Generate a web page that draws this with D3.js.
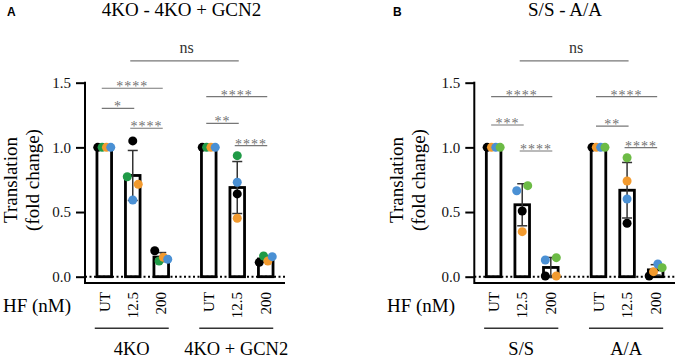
<!DOCTYPE html>
<html><head><meta charset="utf-8">
<script src="https://cdn.jsdelivr.net/npm/d3@7"></script>
<style>body{margin:0;background:#fff} svg{display:block}</style>
</head><body><svg id="chart" width="678" height="359"></svg>
<script>
// ---------- DATA ----------
const doses = ["UT", "12.5", "200"];
const yTicks = [0, 0.5, 1.0, 1.5];

// Panel A
const titleA = "4KO - 4KO + GCN2";
const groupsA = ["4KO", "4KO + GCN2"];
// values per replicate, ordered: group1 UT,12.5,200, group2 UT,12.5,200
const repA_black  = [1.0, 1.05, 0.201, 1.0, 0.640, 0.111];
const repA_green  = [1.0, 0.773, 0.121, 1.0, 0.936, 0.160];
const repA_orange = [1.0, 0.715, 0.150, 1.0, 0.452, 0.121];
const repA_blue   = [1.0, 0.593, 0.135, 1.0, 0.730, 0.155];
// comparisons: [group1, dose1, group2, dose2, bracket height, label]
const compsA = [
  ["4KO", "12.5", "4KO + GCN2", "12.5", 1.668, "ns"],
  ["4KO", "UT", "4KO", "200", 1.457, "****"],
  ["4KO", "UT", "4KO", "12.5", 1.302, "*"],
  ["4KO", "12.5", "4KO", "200", 1.148, "****"],
  ["4KO + GCN2", "UT", "4KO + GCN2", "200", 1.392, "****"],
  ["4KO + GCN2", "UT", "4KO + GCN2", "12.5", 1.186, "**"],
  ["4KO + GCN2", "12.5", "4KO + GCN2", "200", 1.013, "****"]
];

// Panel B
const titleB = "S/S - A/A";
const groupsB = ["S/S", "A/A"];
const repB_black  = [1.0, 0.508, 0.005, 1.0, 0.413, 0.005];
const repB_orange = [1.0, 0.348, 0.005, 1.0, 0.740, 0.039];
const repB_blue   = [1.0, 0.665, 0.129, 1.0, 0.601, 0.098];
const repB_green  = [1.0, 0.704, 0.147, 1.0, 0.920, 0.070];
const compsB = [
  ["S/S", "12.5", "A/A", "12.5", 1.668, "ns"],
  ["S/S", "UT", "S/S", "200", 1.392, "****"],
  ["S/S", "UT", "S/S", "12.5", 1.173, "***"],
  ["S/S", "12.5", "S/S", "200", 0.972, "****"],
  ["A/A", "UT", "A/A", "200", 1.392, "****"],
  ["A/A", "UT", "A/A", "12.5", 1.165, "**"],
  ["A/A", "12.5", "A/A", "200", 0.998, "****"]
];

// ---------- STYLE ----------
const SERIF = "'Liberation Serif','Times New Roman',serif";
const svg = d3.select("#chart");

function panel(cfg) {
  const g = svg.append("g").attr("font-family", SERIF);
  const y = d3.scaleLinear().domain([0, 1.5]).range([276.7, 82.7]);
  const xg = d3.scaleBand().domain(cfg.groups).range([cfg.axisX, cfg.right])
    .paddingInner(0.182).paddingOuter(0.048);
  const xd = d3.scalePoint().domain(doses).range([0, xg.bandwidth()]).padding(0.5);
  const cx = (gr, d) => xg(gr) + xd(d);
  const xAxisY = 283;
  const r = 4.5;

  // panel letter & title
  g.append("text").attr("x", cfg.letterX).attr("y", 16)
    .attr("font-family", "'Liberation Sans',Arial,sans-serif").attr("font-weight", "bold")
    .attr("font-size", 12).text(cfg.letter);
  g.append("text").attr("x", cfg.titleX).attr("y", 16).attr("text-anchor", "middle")
    .attr("font-family", SERIF).attr("font-size", 19).text(cfg.title);

  // build bar data
  const bars = [];
  cfg.groups.forEach((gr, gi) => doses.forEach((d, di) => {
    const idx = gi * doses.length + di;
    const vals = cfg.reps.map(rep => rep[idx]);
    bars.push({gr, d, x: cx(gr, d), vals, mean: d3.mean(vals), sd: d3.deviation(vals)});
  }));

  // bars
  g.selectAll("rect.bar").data(bars).join("rect").attr("class", "bar")
    .attr("x", b => b.x - 7.3).attr("width", 14.6)
    .attr("y", b => y(b.mean)).attr("height", b => y(0) - y(b.mean))
    .attr("fill", "#fff").attr("stroke", "#000").attr("stroke-width", 2.8);

  // zero dotted line
  g.append("line").attr("x1", cfg.axisX).attr("x2", cfg.right)
    .attr("y1", y(0)).attr("y2", y(0))
    .attr("stroke", "#000").attr("stroke-width", 2).attr("stroke-dasharray", "2,2.5");

  // error bars (SD)
  bars.forEach(b => {
    if (!(b.sd > 0)) return;
    const eg = g.append("g").attr("stroke", "#333").attr("stroke-width", 1.5);
    eg.append("line").attr("x1", b.x).attr("x2", b.x).attr("y1", y(b.mean - b.sd)).attr("y2", y(b.mean + b.sd));
    [b.mean - b.sd, b.mean + b.sd].forEach(v =>
      eg.append("line").attr("x1", b.x - 5).attr("x2", b.x + 5).attr("y1", y(v)).attr("y2", y(v)));
  });

  // points with simple row dodge
  bars.forEach(b => {
    const pts = b.vals.map((v, i) => ({v, i, py: y(v), off: 0}));
    const sorted = pts.slice().sort((a, c) => a.py - c.py);
    const rows = [];
    sorted.forEach(p => {
      const last = rows[rows.length - 1];
      if (last && p.py - last[last.length - 1].py < 2 * r) last.push(p); else rows.push([p]);
    });
    rows.forEach(row => {
      const n = row.length;
      if (n < 2) return;
      const sp = Math.min(11, 13 / (n - 1));
      row.sort((a, c) => a.i - c.i).forEach((p, k) => p.off = (k - (n - 1) / 2) * sp);
    });
    pts.forEach(p => {
      g.append("circle").attr("cx", b.x + p.off).attr("cy", p.py).attr("r", r)
        .attr("fill", cfg.colors[p.i]);
    });
  });

  // y axis
  const ax = g.append("g").attr("transform", `translate(${cfg.axisX},0)`)
    .call(d3.axisLeft(y).tickValues(yTicks).tickFormat(d3.format(".1f")).tickSize(9).tickPadding(5));
  ax.attr("font-family", SERIF);
  ax.select(".domain").remove();
  ax.selectAll(".tick line").attr("stroke", "#000").attr("stroke-width", 2);
  ax.selectAll(".tick text").attr("font-family", SERIF).attr("font-size", 15).attr("fill", "#111");
  g.append("line").attr("x1", cfg.axisX).attr("x2", cfg.axisX).attr("y1", y(1.5) - 1).attr("y2", xAxisY + 1)
    .attr("stroke", "#000").attr("stroke-width", 2);
  // x axis line
  g.append("line").attr("x1", cfg.axisX).attr("x2", cfg.right).attr("y1", xAxisY).attr("y2", xAxisY)
    .attr("stroke", "#000").attr("stroke-width", 2);

  // y label
  const yl = g.append("text").attr("transform", `translate(0,180) rotate(-90)`)
    .attr("text-anchor", "middle").attr("font-family", SERIF).attr("font-size", 19);
  yl.append("tspan").attr("x", 0).attr("y", cfg.ylab1).text("Translation");
  yl.append("tspan").attr("x", 0).attr("y", cfg.ylab2).text("(fold change)");

  // dose labels
  bars.forEach(b => {
    g.append("text").attr("transform", `translate(${b.x},${xAxisY + 9}) rotate(-90)`)
      .attr("text-anchor", "end").attr("dy", "0.35em")
      .attr("font-family", SERIF).attr("font-size", 15).text(b.d);
  });
  g.append("text").attr("x", cfg.hfX).attr("y", 312).attr("text-anchor", "end")
    .attr("font-family", SERIF).attr("font-size", 19).text("HF (nM)");

  // group brackets
  cfg.groups.forEach(gr => {
    const x1 = cx(gr, doses[0]) - 9.5, x2 = cx(gr, doses[doses.length - 1]) + 7.5;
    g.append("line").attr("x1", x1).attr("x2", x2).attr("y1", 328.3).attr("y2", 328.3)
      .attr("stroke", "#333").attr("stroke-width", 1.5);
    g.append("text").attr("x", (x1 + x2) / 2).attr("y", 355).attr("text-anchor", "middle")
      .attr("font-family", SERIF).attr("font-size", 18.5).text(gr);
  });

  // significance
  cfg.comps.forEach(([g1, d1, g2, d2, h, lab]) => {
    const x1 = cx(g1, d1) - 2.5, x2 = cx(g2, d2) + 1.5;
    const yy = y(h);
    g.append("line").attr("x1", x1).attr("x2", x2).attr("y1", yy).attr("y2", yy)
      .attr("stroke", "#777").attr("stroke-width", 1.2);
    if (lab === "ns") {
      g.append("text").attr("x", (x1 + x2) / 2 + 2).attr("y", yy - 8).attr("text-anchor", "middle")
        .attr("font-family", SERIF).attr("font-size", 16).attr("fill", "#333").text(lab);
    } else {
      g.append("text").attr("x", (x1 + x2) / 2).attr("y", yy + 3).attr("text-anchor", "middle")
        .attr("font-family", SERIF).attr("font-size", 14).attr("letter-spacing", 1)
        .attr("fill", "#707070").text(lab);
    }
  });
}

panel({
  letter: "A", letterX: 7, title: titleA, titleX: 181.5,
  groups: groupsA, reps: [repA_black, repA_green, repA_orange, repA_blue],
  colors: ["#000000", "#1f9a46", "#f29a2e", "#4a90d4"],
  comps: compsA, axisX: 85, right: 285, ylab1: 17, ylab2: 39, hfX: 71
});
panel({
  letter: "B", letterX: 393, title: titleB, titleX: 565,
  groups: groupsB, reps: [repB_black, repB_orange, repB_blue, repB_green],
  colors: ["#000000", "#f29a2e", "#4a90d4", "#6cbb45"],
  comps: compsB, axisX: 474.3, right: 675, ylab1: 403, ylab2: 425, hfX: 455
});
</script></body></html>
